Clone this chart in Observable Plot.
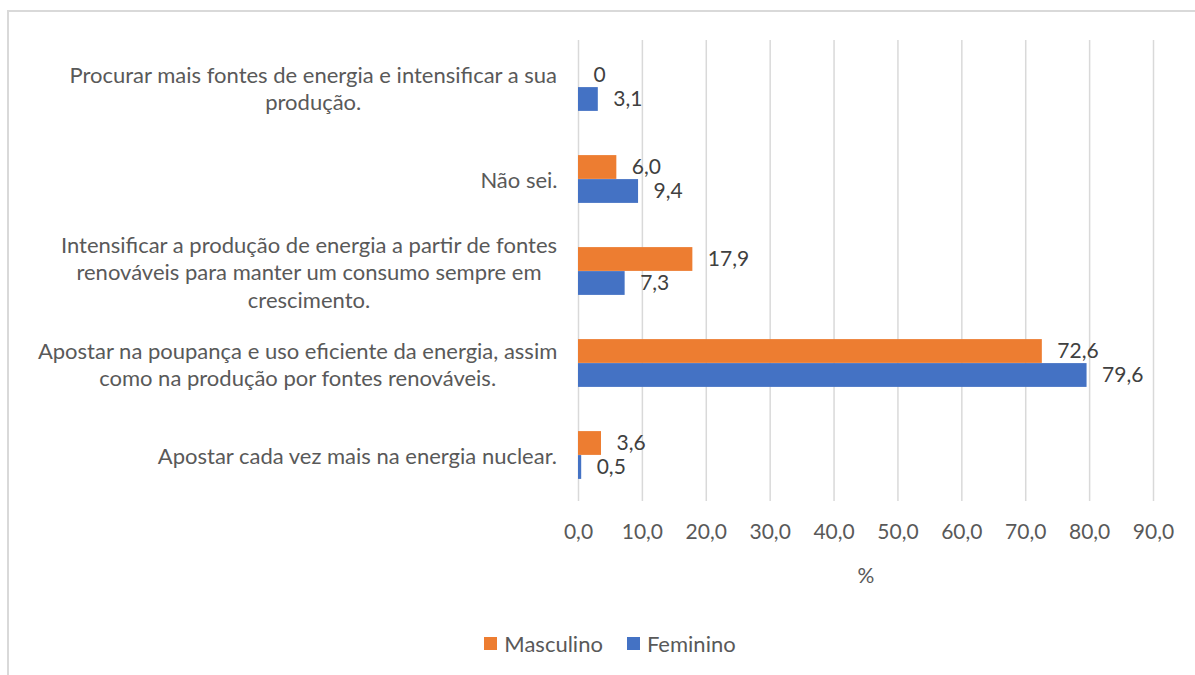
<!DOCTYPE html>
<html>
<head>
<meta charset="utf-8">
<script src="https://cdn.jsdelivr.net/npm/d3@7"></script>
<script src="https://cdn.jsdelivr.net/npm/@observablehq/plot@0.6"></script>
<style>
  html, body { margin: 0; padding: 0; background: #fff; overflow: hidden; }
  body { width: 1195px; height: 675px; position: relative; font-family: Lato, sans-serif; }
  #frame { position: absolute; left: 7px; top: 10px; width: 1300px; height: 800px; border: 2px solid #d9d9d9; box-sizing: border-box; }
  #chart { position: absolute; left: 0; top: 0; }
  #legend { position: absolute; left: 0; top: 630px; width: 1220px; display: flex; justify-content: center; align-items: center; font-size: 22px; color: #595959; }
  .item { display: flex; align-items: center; margin: 0 12px; }
  .sw { width: 13px; height: 13px; margin-right: 7px; }
</style>
</head>
<body>
<div id="frame"></div>
<div id="chart"></div>
<div id="legend"></div>
<script>
// ---- data ----
const categories = [
  "Procurar mais fontes de energia e intensificar a sua\nprodução.",
  "Não sei.",
  "Intensificar a produção de energia a partir de fontes\nrenováveis para manter um consumo sempre em\ncrescimento.",
  "Apostar na poupança e uso eficiente da energia, assim\ncomo na produção por fontes renováveis.",
  "Apostar cada vez mais na energia nuclear."
];
const seriesNames = ["Masculino", "Feminino"];
const masculino = [0, 6.0, 17.9, 72.6, 3.6];
const feminino = [3.1, 9.4, 7.3, 79.6, 0.5];
const xTicks = [0, 10, 20, 30, 40, 50, 60, 70, 80, 90];
const seriesColors = ["#ED7D31", "#4472C4"];

// ---- layout ----
const W = 1195, H = 600;
const mTop = 40, mBottom = 99, mLeft = 578, mRight = 42;
const bandStep = (H - mTop - mBottom) / categories.length;
const barH = 24;
const labelFont = "22px Lato";

const fmt = v => v === 0 ? "0" : v.toFixed(1).replace(".", ",");

const mascRows = categories.map((c, i) => ({cat: c, value: masculino[i]}));
const femRows = categories.map((c, i) => ({cat: c, value: feminino[i]}));

// measure label widths to center lines within each label block
const ctx = document.createElement("canvas").getContext("2d");
ctx.font = labelFont;
const blockWidth = c => d3.max(c.split("\n"), l => ctx.measureText(l).width);
const labelGap = 21;

const labelMarks = categories.map(c =>
  Plot.text([c], {
    y: d => d, text: d => d, frameAnchor: "left",
    dx: -(labelGap + blockWidth(c) / 2), textAnchor: "middle",
    lineHeight: 1.25, fill: "#595959", fontSize: 22
  })
);

const chart = Plot.plot({
  width: W, height: H,
  marginTop: mTop, marginBottom: mBottom, marginLeft: mLeft, marginRight: mRight,
  style: {fontFamily: "Lato, sans-serif", fontSize: "21px", color: "#595959", background: "transparent"},
  x: {domain: [0, 90]},
  y: {domain: categories, padding: 0, axis: null},
  marks: [
    Plot.gridX(xTicks, {stroke: "#d9d9d9", strokeOpacity: 1, strokeWidth: 1.5}),
    Plot.barX(mascRows, {x: "value", y: "cat", fill: seriesColors[0],
      insetTop: bandStep / 2 - barH, insetBottom: bandStep / 2}),
    Plot.barX(femRows, {x: "value", y: "cat", fill: seriesColors[1],
      insetTop: bandStep / 2, insetBottom: bandStep / 2 - barH}),
    Plot.text(mascRows, {x: "value", y: "cat", text: d => fmt(d.value), dy: -barH / 2, dx: 15,
      textAnchor: "start", fill: "#404040", fontSize: 21}),
    Plot.text(femRows, {x: "value", y: "cat", text: d => fmt(d.value), dy: barH / 2, dx: 15,
      textAnchor: "start", fill: "#404040", fontSize: 21}),
    Plot.axisX(xTicks, {tickSize: 0, tickPadding: 23, tickFormat: d => d.toFixed(1).replace(".", ","),
      label: "%", labelAnchor: "center", labelArrow: "none", labelOffset: 81, fill: "#595959", fontSize: 21}),
    ...labelMarks
  ]
});
document.getElementById("chart").appendChild(chart);

// legend
const legend = document.getElementById("legend");
seriesNames.forEach((s, i) => {
  const item = document.createElement("div");
  item.className = "item";
  const sw = document.createElement("div");
  sw.className = "sw";
  sw.style.background = seriesColors[i];
  const t = document.createElement("span");
  t.textContent = s;
  item.appendChild(sw); item.appendChild(t);
  legend.appendChild(item);
});
</script>
</body>
</html>
